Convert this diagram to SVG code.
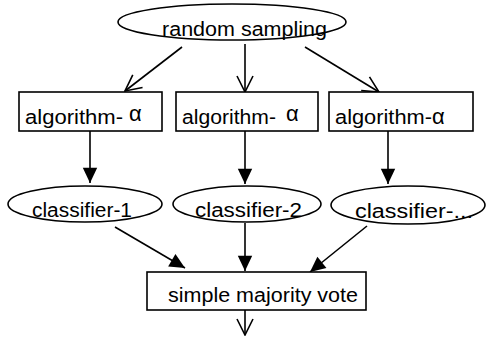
<svg xmlns="http://www.w3.org/2000/svg" width="487" height="341" viewBox="0 0 487 341">
<style>
.n{fill:#fff;stroke:#000;stroke-width:1.6}
.t{font-family:"Liberation Sans",Arial,sans-serif;font-size:20px;fill:#000}
.a{font-family:"Liberation Sans",Arial,sans-serif;font-size:22px;fill:#000}
.e{stroke:#000;stroke-width:1.6;fill:none}
</style>
<defs>
<marker id="open" viewBox="0 0 20 20" refX="19" refY="10" markerWidth="20" markerHeight="20" markerUnits="userSpaceOnUse" orient="auto">
<path d="M3,2 L19,10 L3,18" fill="none" stroke="#000" stroke-width="1.6"/>
</marker>
<marker id="fill" viewBox="0 0 20 20" refX="19" refY="10" markerWidth="18" markerHeight="18" markerUnits="userSpaceOnUse" orient="auto">
<path d="M2,2 L19,10 L2,18 Z" fill="#000"/>
</marker>
</defs>
<g id="connectors">
<line class="e" x1="182" y1="47" x2="125" y2="91" marker-end="url(#open)"/>
<line class="e" x1="245" y1="44" x2="245" y2="92" marker-end="url(#open)"/>
<line class="e" x1="305" y1="47" x2="379" y2="92" marker-end="url(#open)"/>
<line class="e" x1="90" y1="131" x2="90" y2="183" marker-end="url(#fill)"/>
<line class="e" x1="245" y1="131" x2="245" y2="184" marker-end="url(#fill)"/>
<line class="e" x1="388" y1="131" x2="388" y2="184" marker-end="url(#fill)"/>
<line class="e" x1="115" y1="227" x2="185" y2="268" marker-end="url(#fill)"/>
<line class="e" x1="245" y1="223" x2="245" y2="271" marker-end="url(#fill)"/>
<line class="e" x1="367" y1="226" x2="310" y2="272" marker-end="url(#fill)"/>
<line class="e" x1="245" y1="310" x2="245" y2="335" marker-end="url(#open)"/>
</g>
<g id="random-sampling">
<ellipse class="n" cx="232" cy="22" rx="114" ry="18"/>
<text class="t" x="162" y="36" textLength="165" lengthAdjust="spacingAndGlyphs">random sampling</text>
</g>
<g id="algorithm-1">
<rect class="n" x="19" y="92" width="143" height="39"/>
<text class="t" x="25" y="124" textLength="98" lengthAdjust="spacingAndGlyphs">algorithm-</text>
<text class="a" x="129" y="121">α</text>
</g>
<g id="algorithm-2">
<rect class="n" x="176" y="92" width="142" height="39"/>
<text class="t" x="182" y="124" textLength="94" lengthAdjust="spacingAndGlyphs">algorithm-</text>
<text class="a" x="286" y="121">α</text>
</g>
<g id="algorithm-3">
<rect class="n" x="329" y="92" width="144" height="39"/>
<text class="t" x="335" y="124" textLength="97" lengthAdjust="spacingAndGlyphs">algorithm-</text>
<text class="a" x="432" y="124">α</text>
</g>
<g id="classifier-1">
<ellipse class="n" cx="85" cy="204" rx="77" ry="18"/>
<text class="t" x="32" y="217" textLength="100" lengthAdjust="spacingAndGlyphs">classifier-1</text>
</g>
<g id="classifier-2">
<ellipse class="n" cx="247" cy="204" rx="74" ry="18"/>
<text class="t" x="195" y="217" textLength="107" lengthAdjust="spacingAndGlyphs">classifier-2</text>
</g>
<g id="classifier-3">
<ellipse class="n" cx="408" cy="205" rx="77" ry="19"/>
<text class="t" x="355" y="218" textLength="118" lengthAdjust="spacingAndGlyphs">classifier-...</text>
</g>
<g id="majority-vote">
<rect class="n" x="147" y="272" width="219" height="38"/>
<text class="t" x="168" y="302" textLength="190" lengthAdjust="spacingAndGlyphs">simple majority vote</text>
</g>
</svg>
